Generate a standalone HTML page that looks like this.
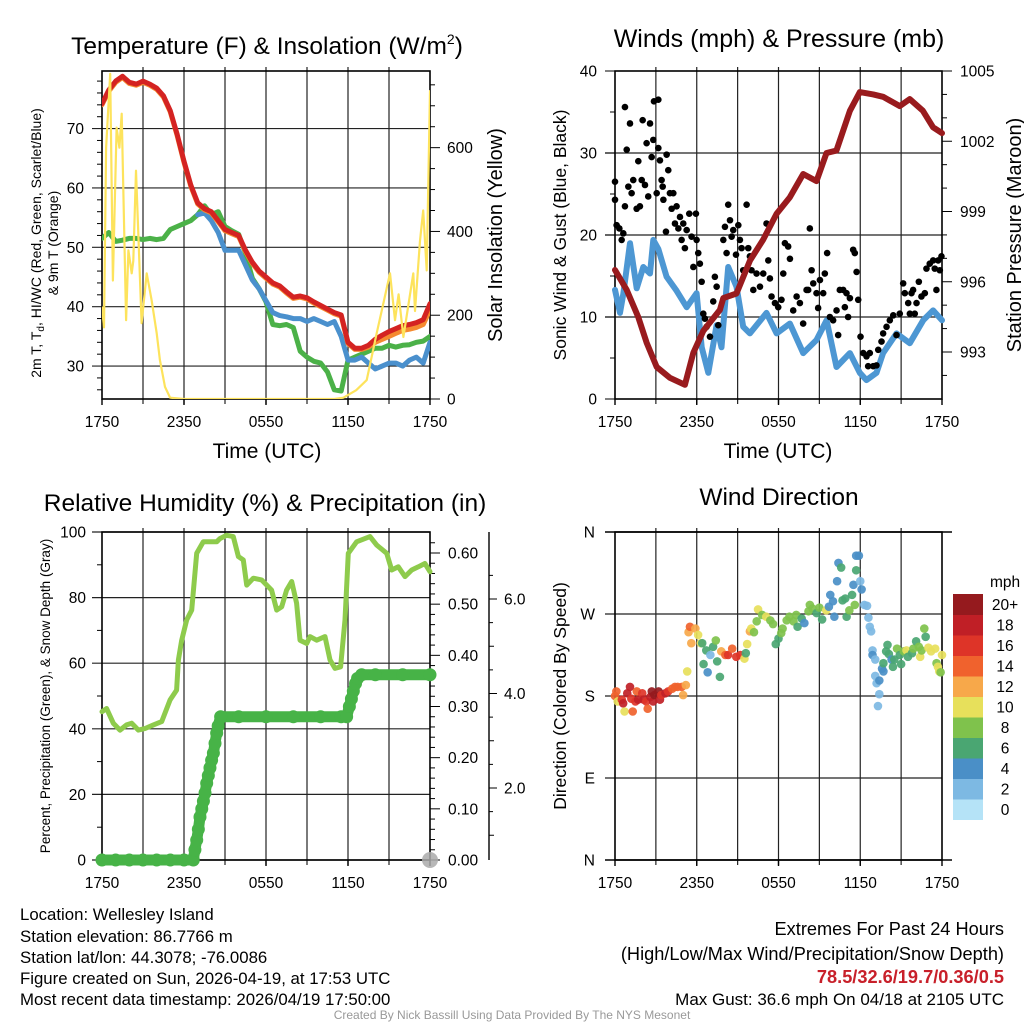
<!DOCTYPE html>
<html><head><meta charset="utf-8"><style>
html,body{margin:0;padding:0;background:#fff}
svg{display:block;font-family:"Liberation Sans",Arial,sans-serif}
</style></head><body>
<svg id="chart" width="1024" height="1024" viewBox="0 0 1024 1024" xmlns="http://www.w3.org/2000/svg">
<rect width="1024" height="1024" fill="#fff"/>
<g id="p1"></g>
<g id="p2"></g>
<g id="p3"></g>
<g id="p4"></g>
<g id="txt" font-size="16.8" fill="#000">
<text x="267" y="54" font-size="24.5" text-anchor="middle">Temperature (F) &amp; Insolation (W/m<tspan font-size="14" dy="-10">2</tspan><tspan dy="10">)</tspan></text>
<text x="779" y="47" font-size="25" text-anchor="middle">Winds (mph) &amp; Pressure (mb)</text>
<text x="265" y="511" font-size="24.5" text-anchor="middle">Relative Humidity (%) &amp; Precipitation (in)</text>
<text x="779" y="505" font-size="24.5" text-anchor="middle">Wind Direction</text>
<text x="267" y="458" font-size="21" text-anchor="middle">Time (UTC)</text>
<text x="778" y="458" font-size="21" text-anchor="middle">Time (UTC)</text>
<text transform="translate(41,243) rotate(-90)" font-size="14" text-anchor="middle">2m T, T<tspan font-size="10" dy="3">d</tspan><tspan dy="-3">, HI/WC (Red, Green, Scarlet/Blue)</tspan></text>
<text transform="translate(58,243) rotate(-90)" font-size="14" text-anchor="middle">&amp; 9m T (Orange)</text>
<text transform="translate(502,235) rotate(-90)" font-size="20" text-anchor="middle">Solar Insolation (Yellow)</text>
<text transform="translate(566,235) rotate(-90)" font-size="17.5" text-anchor="middle">Sonic Wind &amp; Gust (Blue, Black)</text>
<text transform="translate(1021,235) rotate(-90)" font-size="20" text-anchor="middle">Station Pressure (Maroon)</text>
<text transform="translate(50,696) rotate(-90)" font-size="13.5" text-anchor="middle">Percent, Precipitation (Green), &amp; Snow Depth (Gray)</text>
<text transform="translate(566,696) rotate(-90)" font-size="17.5" text-anchor="middle">Direction (Colored By Speed)</text>
<text x="20" y="920">Location: Wellesley Island</text>
<text x="20" y="942">Station elevation: 86.7766 m</text>
<text x="20" y="963">Station lat/lon: 44.3078; -76.0086</text>
<text x="20" y="984">Figure created on Sun, 2026-04-19, at 17:53 UTC</text>
<text x="20" y="1005">Most recent data timestamp: 2026/04/19 17:50:00</text>
<text x="1004" y="935" font-size="18.2" text-anchor="end">Extremes For Past 24 Hours</text>
<text x="1004" y="960" font-size="18.2" text-anchor="end">(High/Low/Max Wind/Precipitation/Snow Depth)</text>
<text x="1004" y="983" font-size="18.2" text-anchor="end" fill="#c8202a" font-weight="bold">78.5/32.6/19.7/0.36/0.5</text>
<text x="1004" y="1005" font-size="17" text-anchor="end">Max Gust: 36.6 mph On 04/18 at 2105 UTC</text>
<text x="512" y="1019" font-size="12" fill="#999" text-anchor="middle">Created By Nick Bassill Using Data Provided By The NYS Mesonet</text>
</g>
</svg>
<script>
const xTickLabels = ["1750","2350","0550","1150","1750"];
// Panel 1
const tempHours = [0,0.5,1,1.5,2,2.5,3,3.5,4,4.5,5,5.5,6,6.5,7,7.5,8,8.5,9,9.5,10,10.5,11,11.5,12,12.5,13,13.5,14,14.5,15,15.5,16,16.5,17,17.5,18,18.5,19,19.5,20,20.5,21,21.5,22,22.5,23,23.5,24];
const airTemp = [74.2,76.5,78,78.8,77.8,77.5,78,77.5,76.8,75.5,73,69,64.5,60.5,57.5,56.5,56,54.5,53,52.5,52,49.5,47.5,46,45,44,43.5,42.5,41.6,41.8,41.5,40.8,40.2,39.6,39,38.6,34,33,33,33.5,34.5,35.2,35.8,36.3,36.8,37,37.3,37.8,40.5];
const temp9m = [74,76.3,77.8,78.6,77.6,77.3,77.8,77.3,76.6,75.3,72.8,68.8,64.3,60.3,57.3,56.3,55.8,54.3,52.8,52.3,51.8,49.3,47.3,45.8,44.8,43.8,43.3,42.3,41.4,41.6,41.3,40.6,40,39.4,38.8,38.4,33.8,32.8,32.8,33.2,34,34.5,35,35.5,36,36.2,36.5,37,39.5];
const dewPoint = [51.5,52.5,51,51.2,51.5,51.5,51.3,51.5,51.3,51.5,53,53.5,54,54.5,55.5,57,55.5,56,53.5,52.8,52.2,49,44.8,43,40.8,37,36.8,37,36.5,32.5,31.5,30.8,30.5,29,26,25.8,31,31.5,32,32.5,33,33,33.5,33.2,33.5,33.6,34,34.2,35];
const windChill = [null,null,null,null,null,null,null,null,null,null,null,null,null,null,55.5,55.8,54.5,52.5,49.5,49.5,49.5,47,44.5,43,41,39,38.5,38.3,38,38,37.5,38,37.5,37,37.5,35,31,31,31.5,30.5,29.5,30,30.5,30.5,30,31,31.5,30.5,34];
const solarHours = [0,0.15,0.3,0.6,0.8,1.07,1.27,1.44,1.76,1.93,2.17,2.29,2.49,2.9,3.27,3.63,4.0,4.24,4.61,4.98,6,17,17.66,18.6,19.37,20.1,20.6,21.07,21.44,21.7,22.05,22.3,22.78,22.9,23.27,23.5,23.76,24];
const solarValues = [219,171,600,776,283,648,600,681,188,355,300,330,545,181,300,236,157,93,29,3,0,0,3,21,45,157,230,300,188,250,148,200,300,210,378,450,307,735];
const tempTicks = [30,40,50,60,70];
const solarTicks = [0,200,400,600];
// Panel 2
const windHours = [0,0.37,0.61,1.1,1.59,2.08,2.57,2.81,3.18,3.79,4.52,5.26,5.99,6.36,6.85,7.46,7.82,8.31,8.92,9.41,9.9,11.12,11.86,12.84,13.81,14.79,15.53,16.26,17.24,17.97,18.46,19.19,19.68,20.66,21.64,22.62,23.35,24];
const windSpeed = [13.3,10.5,12.8,19,13.5,16.1,15.3,19.4,18.3,14.9,13.2,11.2,12.9,6.3,3.2,9,6.3,16.1,13.7,8.8,8,10.5,8,9.2,5.6,7.2,9.6,3.9,5.6,3.2,2.3,3.2,5.6,8,6.8,9.6,10.8,9.6];
const pressHours = [0,0.86,1.7,2.32,3.06,4.03,5.13,5.75,6.48,7.7,7.95,8.92,9.9,10.88,11.86,12.83,13.81,14.79,15.52,16.25,17.24,17.97,18.95,19.68,20.9,21.64,22.6,23.34,24];
const pressure = [996.5,995.65,994.5,993.4,992.36,991.9,991.6,992.96,993.9,994.8,995.3,995.5,996.9,997.8,998.9,999.6,1000.6,1000.3,1001.5,1001.6,1003.3,1004.1,1004.0,1003.9,1003.5,1003.8,1003.3,1002.6,1002.35];
const gustHours = [0,0,0.12,0.32,0.49,0.61,0.73,0.73,0.86,0.98,1.1,1.22,1.34,1.59,1.71,1.83,1.96,2.03,2.2,2.32,2.44,2.57,2.69,2.81,2.86,3.06,3.18,3.18,3.3,3.42,3.5,3.55,3.74,3.79,3.91,4.03,4.16,4.28,4.4,4.52,4.65,4.77,4.89,5.01,5.13,5.26,5.45,5.62,5.75,5.94,5.99,6.11,6.23,6.36,6.48,6.6,6.72,6.97,7.21,7.33,7.46,7.58,7.95,8.07,8.19,8.31,8.44,8.56,8.68,8.88,9.05,9.17,9.29,9.41,9.66,9.78,9.9,10.02,10.15,10.39,10.64,10.88,11.12,11.25,11.37,11.49,11.74,11.98,12.22,12.35,12.47,12.71,12.84,13.08,13.33,13.57,13.81,14.06,14.18,14.3,14.43,14.55,14.79,14.91,15.04,15.28,15.4,15.57,15.77,16.01,16.26,16.38,16.5,16.75,16.87,16.99,17.11,17.24,17.48,17.6,17.73,17.85,18.02,18.22,18.46,18.58,18.7,18.95,19.19,19.32,19.56,19.68,19.93,20.17,20.42,20.66,20.9,21.15,21.27,21.52,21.64,21.76,21.88,22.0,22.13,22.3,22.49,22.74,22.86,23.1,23.35,23.47,23.59,23.72,23.84,23.96];
const gustValues = [26.5,24.3,21.2,20.8,19.4,20.2,35.6,23.5,30.4,25.9,33.6,25.1,26.7,23.2,29,23.5,26.7,34,26.1,31.2,24.7,33.6,29.5,31.6,36.3,25.1,36.5,30.6,29.1,26.7,25.9,24.3,20.4,29.8,27.9,25.1,23.2,25.1,21.4,23.5,20.8,22.2,19.4,21.4,18.4,20.6,22.6,19.8,16.1,22.6,19.4,17.8,16.5,14.3,10.4,9.8,8.8,7.6,11.9,14.9,13.7,9,19.4,21,17.8,23.7,21.8,19.8,20.6,17.6,21.2,19.4,18.4,15.7,23.7,18.4,17.4,15.7,13.3,15.3,13.7,15.3,21.4,16.9,14.7,12.5,11.7,11.2,12.1,15.3,19,18.6,17.1,10.8,12.5,11.7,9.2,13.3,13.3,20.8,15.7,14.1,12.9,11.1,14.5,12.9,15.3,17.8,10,9.6,10.8,7.8,13.3,13.3,11.2,12.9,10,12.3,18.2,17.8,15.5,12.1,7.6,5.6,5.2,4,5.6,4,4.1,6,7,8,8.8,9.6,10.2,7.8,10.4,14.1,12.9,11.7,10.4,12.9,13.3,10.4,11.7,14.3,12.5,12.9,15.9,16.5,16.9,15.9,13.3,16.9,15.7,17.4];
const windTicks = [0,10,20,30,40];
const pressTicks = [993,996,999,1002,1005];
// Panel 3
const rhHours = [0,0.34,0.83,1.32,1.8,2.17,2.66,3.15,3.76,4.37,4.98,5.46,5.59,5.83,6.2,6.56,6.93,7.41,8.39,8.63,9.12,9.61,9.98,10.34,10.59,11.07,11.68,12.41,12.78,13.15,13.51,13.88,14.24,14.49,14.98,15.22,15.71,16.32,16.68,17.05,17.46,17.78,18.02,18.63,19.61,20.1,20.83,21.2,21.68,22.17,22.66,23.15,23.63,24];
const rhValues = [45.2,46.2,41.7,39.6,41.2,41.7,39.6,40.1,41.2,42.2,48.8,51.8,61,67,73.2,76.2,93.5,97,97,98,99,98.6,92.5,91.5,83.8,85.9,85.4,82.3,76.2,77.2,82.3,84.9,78.3,67,66,68.1,67,68.1,61,58.4,58.9,73.2,93.5,97,98.6,96,93.5,88.4,89.4,86.4,88.4,89.4,90.4,87.9];
const precipHours = [0,1,2,3,4,5,6,6.68,6.8,6.93,7.05,7.17,7.3,7.42,7.54,7.66,7.78,7.9,8.02,8.15,8.27,8.39,8.5,8.68,10,12,14,16,17.5,17.9,18.1,18.25,18.39,18.55,18.7,19,20,22,24];
const precipValues = [0,0,0,0,0,0,0,0,0.02,0.039,0.06,0.084,0.1,0.115,0.131,0.15,0.165,0.18,0.195,0.209,0.228,0.248,0.262,0.28,0.28,0.28,0.28,0.28,0.28,0.28,0.3,0.315,0.33,0.345,0.355,0.362,0.362,0.362,0.362];
const snowHours = [24];
const snowValues = [0];
const rhTicks = [0,20,40,60,80,100];
const precipTicks = [0,0.1,0.2,0.3,0.4,0.5,0.6];
const snowTickLabels = ["2.0","4.0","6.0"];
// Panel 4
const dirHours = [0,0.1,0.2,0.5,0.6,0.7,0.9,1.1,1.2,1.3,1.5,1.6,1.7,2.0,2.1,2.3,2.4,2.6,2.7,2.8,2.9,3.2,3.3,3.4,3.7,3.9,4.2,4.4,4.6,4.9,5.0,5.2,5.3,5.4,5.5,5.6,5.9,6.1,6.3,6.4,6.5,6.7,6.8,7.0,7.2,7.4,7.5,7.7,7.8,8.1,8.3,8.6,8.9,9.2,9.5,9.6,9.7,9.9,10.0,10.2,10.4,10.5,10.8,11.1,11.4,11.6,11.8,12.0,12.2,12.3,12.6,12.8,13.1,13.3,13.4,13.7,13.9,14.2,14.3,14.5,14.8,15.0,15.2,15.5,15.7,15.8,16.0,16.1,16.3,16.4,16.6,16.7,16.9,17.0,17.2,17.4,17.5,17.6,17.7,17.7,17.9,18.0,18.1,18.3,18.5,18.6,18.7,18.8,18.9,18.9,19.1,19.1,19.2,19.4,19.4,19.3,19.6,19.7,19.7,19.9,20.0,20.1,20.3,20.4,20.5,20.7,20.9,21.0,21.2,21.4,21.5,21.8,21.9,22.1,22.3,22.4,22.5,22.7,22.8,23.0,23.2,23.5,23.6,23.7,23.8,24.0,23.9];
const dirValues = [180,185,174,176,172,163,183,190,177,163,174,185,176,183,176,174,166,179,185,174,181,185,176,181,183,185,188,190,190,190,181,192,207,250,256,238,254,247,238,238,215,230,206,225,234,241,218,201,229,225,225,232,223,225,221,227,237,251,254,250,262,275,269,267,263,259,237,243,249,254,263,267,262,269,256,265,260,273,280,276,271,277,264,274,278,291,284,267,306,326,321,285,287,267,274,291,302,280,318,334,334,306,297,280,279,266,256,251,230,225,220,202,194,182,197,169,210,207,216,229,236,226,220,212,220,232,225,215,229,230,223,227,232,240,234,223,230,254,245,233,229,232,216,212,207,225,206];
const dirSpeeds = [14,14,10,16,18,10,18,18,16,14,16,14,18,16,18,16,14,18,20,18,20,20,18,16,18,16,14,14,14,14,12,12,10,12,14,12,12,10,10,6,6,6,4,2,6,8,6,6,12,14,16,14,16,16,10,6,10,12,10,8,8,10,8,10,8,8,6,6,8,8,8,8,8,8,6,6,4,8,8,8,6,8,6,10,4,4,4,4,4,4,6,6,6,6,8,6,4,8,6,4,4,2,4,2,2,2,2,2,2,4,2,2,2,2,4,2,4,4,6,6,6,6,4,6,6,8,6,6,8,10,6,6,8,6,8,10,8,8,6,10,10,10,8,10,10,10,8];
const dirTickLabels = ["N","E","S","W","N"];
const speedBinLabels = ["0","2","4","6","8","10","12","14","16","18","20+"];
const speedColors = ["#b5e3f7","#7db9e3","#4a8fc7","#4aa672","#7fc24c","#e7e05b","#f7a84a","#f0622d","#de3428","#c01f26","#951a1e"];

const NS="http://www.w3.org/2000/svg";
const TF=15.5;
function mk(parent, tag, attrs){const e=document.createElementNS(NS,tag);for(const k in attrs)e.setAttribute(k,attrs[k]);parent.appendChild(e);return e;}
function xScale(L,R){return h=>L+(R-L)*h/24;}
function lin(d0,d1,r0,r1){return v=>r0+(v-d0)*(r1-r0)/(d1-d0);}

function frame(g,L,R,T,B,xfn,hGridYs){
  for(let k=1;k<8;k++){const x=xfn(k*3);const l=mk(g,'line',{x1:x,x2:x,y1:T-4,y2:B+5,stroke:'#222','stroke-width':1.2});
    
    }
  hGridYs.forEach(y=>{const l=mk(g,'line',{x1:L-10,x2:R,y1:y,y2:y,stroke:'#222','stroke-width':1.2});
    
    });
  const r=mk(g,'rect',{x:L,y:T,width:R-L,height:B-T,fill:'none',stroke:'#000','stroke-width':1.6});
  
  
  xTickLabels.forEach((s,i)=>{const x=xfn(i*6);
    const t=mk(g,'text',{x:x,y:B+28,'font-size':TF,'text-anchor':'middle'});t.textContent=s;
    
    
    mk(g,'line',{x1:x,x2:x,y1:B,y2:B+6,stroke:'#000','stroke-width':1.4});});
}
function pathD(hs,vs,xf,yf){let d='',pen=false;hs.forEach((h,i)=>{const v=vs[i];if(v===null||v===undefined){pen=false;return;}d+=(pen?'L':'M')+xf(h).toFixed(1)+','+yf(v).toFixed(1);pen=true;});return d;}
function line(g,hs,vs,xf,yf,col,w,name){const p=mk(g,'path',{d:pathD(hs,vs,xf,yf),fill:'none',stroke:col,'stroke-width':w,'stroke-linejoin':'round','stroke-linecap':'round'});
  
  return p;}

// ---------- Panel 1
(function(){
  const g=document.getElementById('p1');const L=102,R=430,T=71,B=399;
  const x=xScale(L,R), y=lin(24.45,79.7,B,T), ys=lin(0,783,B,T);
  frame(g,L,R,T,B,x,tempTicks.map(y));
  tempTicks.forEach(v=>{const t=mk(g,'text',{x:L-18,y:y(v)+5.5,'font-size':TF,'text-anchor':'end'});t.textContent=v;
    
    });
  for(let v=26;v<80;v+=2){if(v%10)mk(g,'line',{x1:L-5,x2:L,y1:y(v),y2:y(v),stroke:'#000'});}
  solarTicks.forEach(v=>{mk(g,'line',{x1:R,x2:R+10,y1:ys(v),y2:ys(v),stroke:'#000'});const t=mk(g,'text',{x:R+17,y:ys(v)+5.5,'font-size':TF});t.textContent=v;
    
    });
  for(let v=50;v<780;v+=50){if(v%200)mk(g,'line',{x1:R,x2:R+5,y1:ys(v),y2:ys(v),stroke:'#000'});}
  const cg=mk(g,'g',{'clip-path':'url(#c1)'});
  const cp=mk(g,'clipPath',{id:'c1'});mk(cp,'rect',{x:L,y:T,width:R-L,height:B-T});
  line(cg,tempHours,dewPoint,x,y,'#4bb148',5,'dewpoint-line');
  line(cg,tempHours,windChill,x,y,'#4a90cd',5,'windchill-line');
  line(cg,tempHours,temp9m,x,y,'#f58a30',5,'temp-9m-line');
  line(cg,tempHours,airTemp,x,y,'#d42322',5,'temp-2m-line');
  line(cg,solarHours,solarValues,x,ys,'#fde35c',2.2,'solar-line');
})();

// ---------- Panel 2
(function(){
  const g=document.getElementById('p2');const L=615,R=942,T=71,B=399;
  const x=xScale(L,R), y=lin(0,40,B,T), yp=lin(993,1005,352,71);
  frame(g,L,R,T,B,x,[10,20,30].map(y));
  windTicks.forEach(v=>{mk(g,'line',{x1:L-10,x2:L,y1:y(v),y2:y(v),stroke:'#000'});const t=mk(g,'text',{x:L-18,y:y(v)+5.5,'font-size':TF,'text-anchor':'end'});t.textContent=v;
    
    });
  for(let v=5;v<40;v+=10)mk(g,'line',{x1:L-5,x2:L,y1:y(v),y2:y(v),stroke:'#000'});
  pressTicks.forEach(v=>{mk(g,'line',{x1:R,x2:R+10,y1:yp(v),y2:yp(v),stroke:'#000'});const t=mk(g,'text',{x:R+18,y:yp(v)+5.5,'font-size':TF});t.textContent=v;
    
    });
  for(let v=992;v<1006;v+=1){if((v-993)%3)mk(g,'line',{x1:R,x2:R+5,y1:yp(v),y2:yp(v),stroke:'#000'});}
  line(g,windHours,windSpeed,x,y,'#4d97d3',6,'sonic-wind-line');
  gustHours.forEach((h,i)=>{const c=mk(g,'circle',{cx:x(h),cy:y(gustValues[i]),r:3.3,fill:'#000'});
    
    });
  line(g,pressHours,pressure,x,yp,'#991b1e',6,'pressure-line');
})();

// ---------- Panel 3
(function(){
  const g=document.getElementById('p3');const L=102,R=430,T=532,B=860;
  const x=xScale(L,R), y=lin(0,100,B,T), yp=lin(0,0.6,B,553);
  frame(g,L,R,T,B,x,rhTicks.map(y));
  rhTicks.forEach(v=>{const t=mk(g,'text',{x:L-16,y:y(v)+5.5,'font-size':TF,'text-anchor':'end'});t.textContent=v;
    
    });
  for(let v=10;v<100;v+=20)mk(g,'line',{x1:L-5,x2:L,y1:y(v),y2:y(v),stroke:'#000'});
  precipTicks.forEach(v=>{mk(g,'line',{x1:R,x2:R+10,y1:yp(v),y2:yp(v),stroke:'#000'});const t=mk(g,'text',{x:R+18,y:yp(v)+5.5,'font-size':TF});t.textContent=v.toFixed(2);
    
    });
  for(let v=0.02;v<0.64;v+=0.02){if(Math.round(v*100)%10)mk(g,'line',{x1:R,x2:R+5,y1:yp(v),y2:yp(v),stroke:'#000'});}
  const sx=489;
  const sp=mk(g,'line',{x1:sx,x2:sx,y1:532,y2:860,stroke:'#000','stroke-width':1.4});
  
  
  const ysn=lin(2,6,788,599);
  snowTickLabels.forEach(s=>{const v=parseFloat(s);mk(g,'line',{x1:sx,x2:sx+8,y1:ysn(v),y2:ysn(v),stroke:'#000'});const t=mk(g,'text',{x:sx+15,y:ysn(v)+5.5,'font-size':TF});t.textContent=s;
    
    });
  for(let v=1;v<7;v+=2){mk(g,'line',{x1:sx,x2:sx+5,y1:ysn(v),y2:ysn(v),stroke:'#000'});}
  for(let v=1.5;v<7;v+=1){mk(g,'line',{x1:sx,x2:sx+4,y1:ysn(v),y2:ysn(v),stroke:'#000'});}
  line(g,rhHours,rhValues,x,y,'#8ecb4c',5,'rh-line');
  line(g,precipHours,precipValues,x,yp,'#47b347',11,'precip-line');
  precipHours.forEach((h,i)=>{const c=mk(g,'circle',{cx:x(h),cy:yp(precipValues[i]),r:6.5,fill:'#47b347'});
    
    });
  snowHours.forEach((h,i)=>{const c=mk(g,'circle',{cx:x(h),cy:B-snowValues[i]*47,r:8,fill:'#aaa','fill-opacity':0.85});
    
    });
})();

// ---------- Panel 4
(function(){
  const g=document.getElementById('p4');const L=615,R=942,T=532,B=860;
  const x=xScale(L,R), y=lin(0,360,B,T);
  frame(g,L,R,T,B,x,[90,180,270].map(y));
  mk(g,'line',{x1:L-10,x2:R+10,y1:T,y2:T,stroke:'#000','stroke-width':1.4});
  mk(g,'line',{x1:L-10,x2:R+10,y1:B,y2:B,stroke:'#000','stroke-width':1.4});
  dirTickLabels.forEach((s,i)=>{const t=mk(g,'text',{x:L-20,y:y(i*90)+5.5,'font-size':TF,'text-anchor':'end'});t.textContent=s;
    
    });
  dirHours.forEach((h,i)=>{const idx=Math.min(10,Math.floor(dirSpeeds[i]/2));
    const c=mk(g,'circle',{cx:x(h),cy:y(dirValues[i]),r:4.3,fill:speedColors[idx],'fill-opacity':0.92});
    
    });
  const cbx=953,cbw=30,cbt=594,bh=20.5;
  const tt=mk(g,'text',{x:990,y:587,'font-size':TF});tt.textContent='mph';
  
  
  speedBinLabels.forEach((s,i)=>{const k=10-i;const yy=cbt+k*bh;
    const r=mk(g,'rect',{x:cbx,y:yy,width:cbw,height:bh+0.5,fill:speedColors[i]});
    
    
    const t=mk(g,'text',{x:1005,y:yy+bh/2+5.5,'font-size':TF,'text-anchor':'middle'});t.textContent=s;
    
    });
})();
</script>
</body></html>
